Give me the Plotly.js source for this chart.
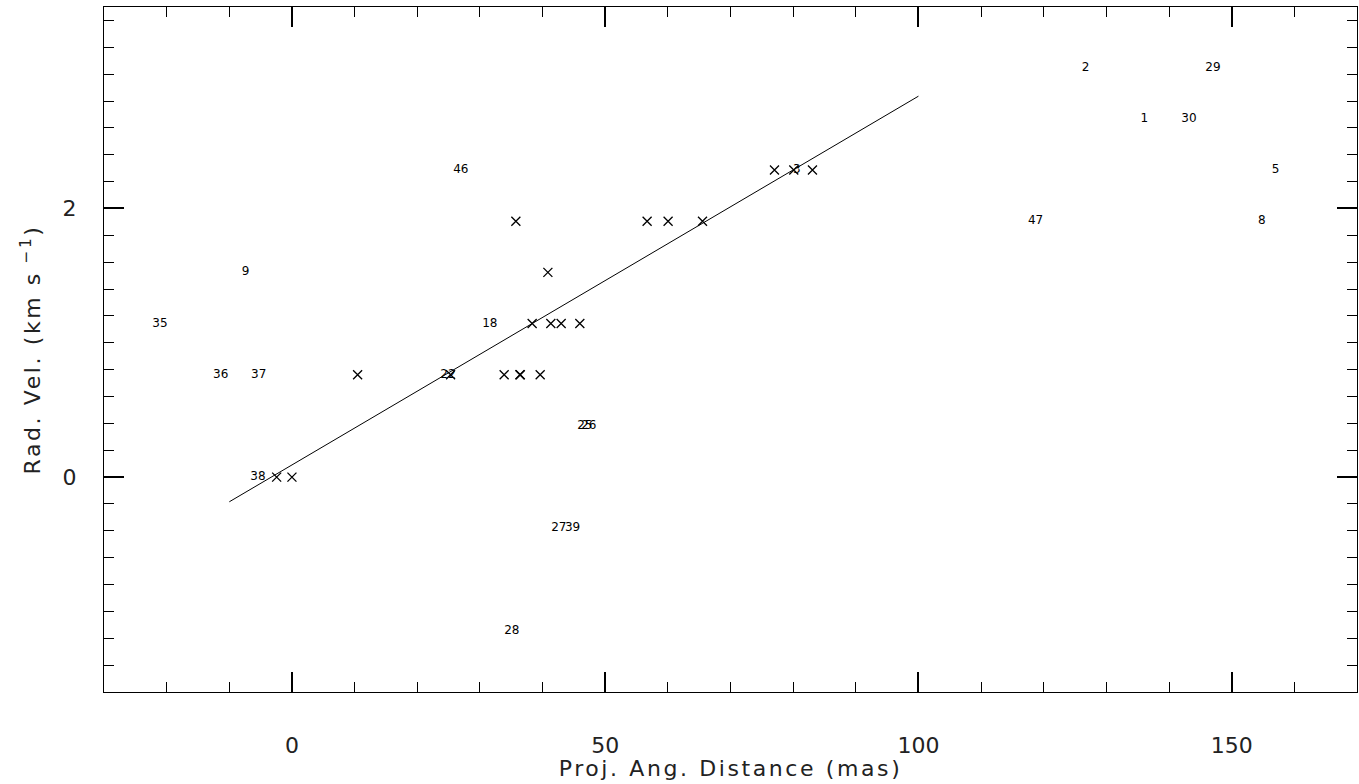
<!DOCTYPE html>
<html>
<head>
<meta charset="utf-8">
<script src="https://cdn.plot.ly/plotly-3.0.1.min.js"></script>
<style>
html,body{margin:0;padding:0;background:#fff;}
.xtitle, .ytitle { letter-spacing: 2.6px; }
</style>
</head>
<body>
<div id="chart" style="width:1359px;height:784px;"></div>
<script>
// Points used in the fit (drawn as crosses)
const fitPtsX = [-2.44, 0.0, 10.48, 25.32, 33.87, 36.38, 36.45, 39.62, 38.34, 41.32, 42.97, 45.95, 40.85, 35.74, 56.69, 60.04, 65.53, 77.02, 80.10, 83.08];
const fitPtsY = [0, 0, 0.762, 0.762, 0.762, 0.762, 0.762, 0.762, 1.143, 1.143, 1.143, 1.143, 1.524, 1.905, 1.905, 1.905, 1.905, 2.286, 2.286, 2.286];

// Points drawn as their ID numbers
const labelIds = ["46", "2", "29", "1", "30", "5", "47", "8", "9", "35", "36", "37", "18", "38", "22", "25", "26", "27", "39", "28", "3"];
const labelX = [26.96, 126.68, 147.0, 136.05, 143.17, 157.0, 118.7, 154.8, -7.39, -21.06, -11.38, -5.31, 31.59, -5.42, 24.9, 46.75, 47.39, 42.6, 44.8, 35.1, 80.6];
const labelY = [2.286, 3.048, 3.048, 2.667, 2.667, 2.286, 1.905, 1.905, 1.524, 1.143, 0.762, 0.762, 1.143, 0, 0.762, 0.381, 0.381, -0.381, -0.381, -1.143, 2.286];

// Fitted line end points
const lineX = [-10, 100];
const lineY = [-0.184, 2.836];

const xRange = [-30, 170];
const yRange = [-1.6, 3.5];

const FONT = "DejaVu Sans, Liberation Sans, sans-serif";

const traces = [
  {
    x: lineX, y: lineY, mode: "lines", type: "scatter", xaxis: "x2", yaxis: "y2",
    line: {color: "#000", width: 1}, hoverinfo: "skip", showlegend: false
  },
  {
    x: fitPtsX, y: fitPtsY, mode: "markers", type: "scatter",
    marker: {symbol: "x-thin", size: 9, color: "#000", line: {color: "#000", width: 1.3}},
    showlegend: false
  },
  {
    x: labelX, y: labelY, mode: "text", type: "scatter",
    text: labelIds, textposition: "middle center",
    textfont: {family: FONT, size: 12, color: "#000"},
    showlegend: false
  }
];

const base = {
  showline: true, linecolor: "#000", linewidth: 1, mirror: "ticks",
  ticks: "inside", tickcolor: "#000", tickwidth: 1,
  showgrid: false, zeroline: false, tickmode: "linear", tick0: 0
};

const layout = {
  width: 1359, height: 784,
  margin: {l: 104, r: 2, t: 7, b: 92},
  paper_bgcolor: "#fff", plot_bgcolor: "#fff",
  showlegend: false,
  // minor ticks + titles
  xaxis: Object.assign({}, base, {
    range: xRange, dtick: 10, ticklen: 10, showticklabels: false, anchor: "y",
    title: {text: "Proj. Ang. Distance (mas)", font: {family: FONT, size: 22, color: "#222"}, standoff: 68}
  }),
  yaxis: Object.assign({}, base, {
    range: yRange, dtick: 0.2, ticklen: 10, showticklabels: false, anchor: "x",
    title: {text: "Rad. Vel. (km s<sup> −1</sup>)", font: {family: FONT, size: 22, color: "#222"}, standoff: 56}
  }),
  // major ticks + labels
  xaxis2: Object.assign({}, base, {
    range: xRange, dtick: 50, ticklen: 20, tickwidth: 2, overlaying: "x", anchor: "y2", side: "bottom",
    tickfont: {family: FONT, size: 22, color: "#222"}, ticklabelstandoff: 34
  }),
  yaxis2: Object.assign({}, base, {
    range: yRange, dtick: 2, ticklen: 20, tickwidth: 2, overlaying: "y", anchor: "x2", side: "left",
    tickfont: {family: FONT, size: 22, color: "#222"}, ticklabelstandoff: 22
  })
};

Plotly.newPlot("chart", traces, layout, {staticPlot: true, displayModeBar: false});
</script>
</body>
</html>
